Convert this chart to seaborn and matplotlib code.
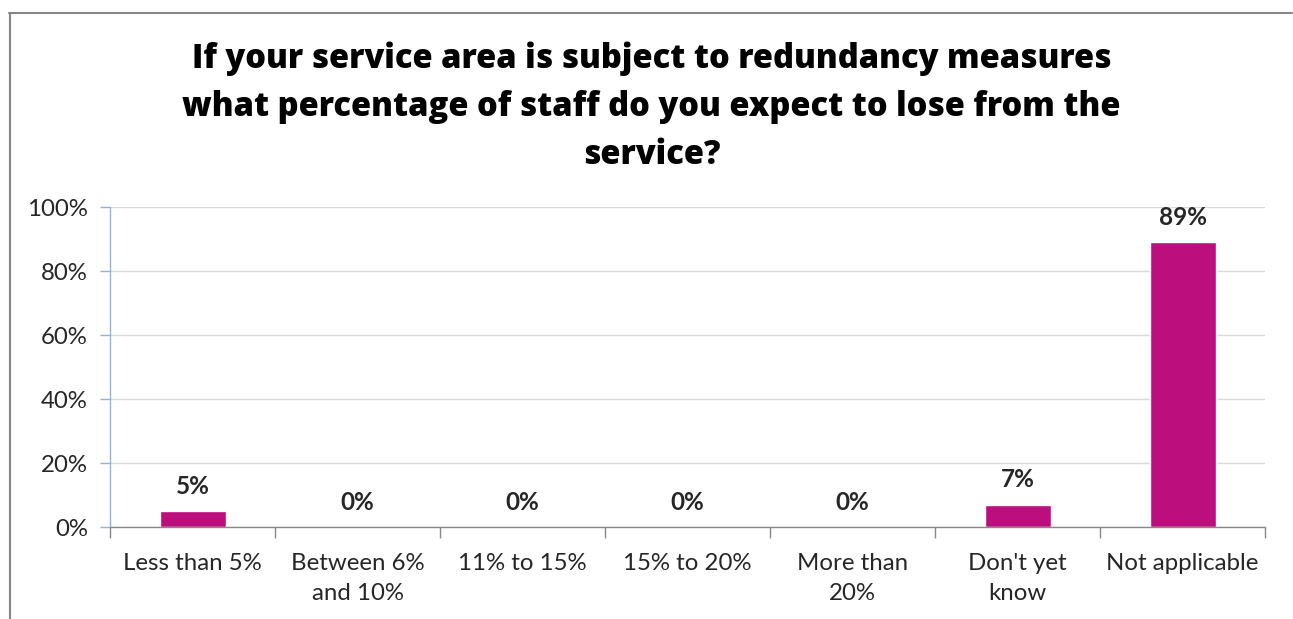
import matplotlib
matplotlib.use("Agg")
import matplotlib.pyplot as plt
from matplotlib.lines import Line2D
from matplotlib.ticker import FuncFormatter
import seaborn as sns
import pandas as pd

categories = ["Less than 5%", "Between 6%\nand 10%", "11% to 15%", "15% to 20%",
              "More than\n20%", "Don't yet\nknow", "Not applicable"]
shares = [5, 0, 0, 0, 0, 7, 89]
title = ("If your service area is subject to redundancy measures\n"
         "what percentage of staff do you expect to lose from the\n"
         "service?")

sns.set_theme(style="white")
plt.rcParams["font.family"] = ["Lato", "DejaVu Sans"]

df = pd.DataFrame({"category": categories, "share": shares})

fig = plt.figure(figsize=(12.93, 6.19), dpi=100)
ax = fig.add_axes([110 / 1293, 1 - 527 / 619, (1265 - 110) / 1293, (527 - 207) / 619])

bar_color = "#BC0E7D"
sns.barplot(data=df, x="category", y="share", color=bar_color, width=0.4,
            saturation=1, ax=ax)

ax.set_ylim(0, 100)
ax.set_xlim(-0.5, len(categories) - 0.5)
ax.set_yticks(range(0, 101, 20))
ax.yaxis.set_major_formatter(FuncFormatter(lambda v, _: f"{v:.0f}%"))
ax.yaxis.grid(True, color="#D9D9D9", linewidth=1)
ax.set_axisbelow(True)
ax.set_xlabel("")
ax.set_ylabel("")

# category boundaries carry the x tick marks
ax.set_xticks([i + 0.5 for i in range(-1, len(categories))], minor=False)
ax.set_xticklabels([])
ax.set_xticks(range(len(categories)), minor=True)
ax.set_xticklabels(categories, minor=True, fontsize=17.3, color="#262626", linespacing=1.5)
ax.tick_params(axis="x", which="major", direction="out", length=8, width=1, color="#878787", bottom=True)
ax.tick_params(axis="x", which="minor", length=0, pad=19)
ax.tick_params(axis="y", direction="out", length=7, width=1, color="#8EB4E3", left=True,
               labelsize=17.3, labelcolor="#262626", pad=9)

for side in ["top", "right"]:
    ax.spines[side].set_visible(False)
ax.spines["left"].set_color("#8EB4E3")
ax.spines["left"].set_linewidth(1)
ax.spines["bottom"].set_color("#878787")
ax.spines["bottom"].set_linewidth(1)

for i, v in enumerate(shares):
    ax.annotate(f"{v}%", (i, v), xytext=(0, 9.5), textcoords="offset points",
                ha="center", va="bottom", fontsize=17.5, fontweight="bold", color="#262626")

fig.text(0.5 * (193 + 1110) / 1293, 1 - 42 / 619, title, ha="center", va="top",
         fontsize=23.5, fontweight="heavy", color="black", linespacing=1.52,
         family=["Open Sans", "DejaVu Sans"])

# outer chart frame (top and left edges)
fig.add_artist(Line2D([9 / 1293, 1292 / 1293], [1 - 12.5 / 619, 1 - 12.5 / 619],
                      color="#868686", linewidth=1.5, transform=fig.transFigure))
fig.add_artist(Line2D([9.5 / 1293, 9.5 / 1293], [0, 1 - 12.5 / 619],
                      color="#868686", linewidth=1.5, transform=fig.transFigure))

fig.savefig("out.png", dpi=100)
